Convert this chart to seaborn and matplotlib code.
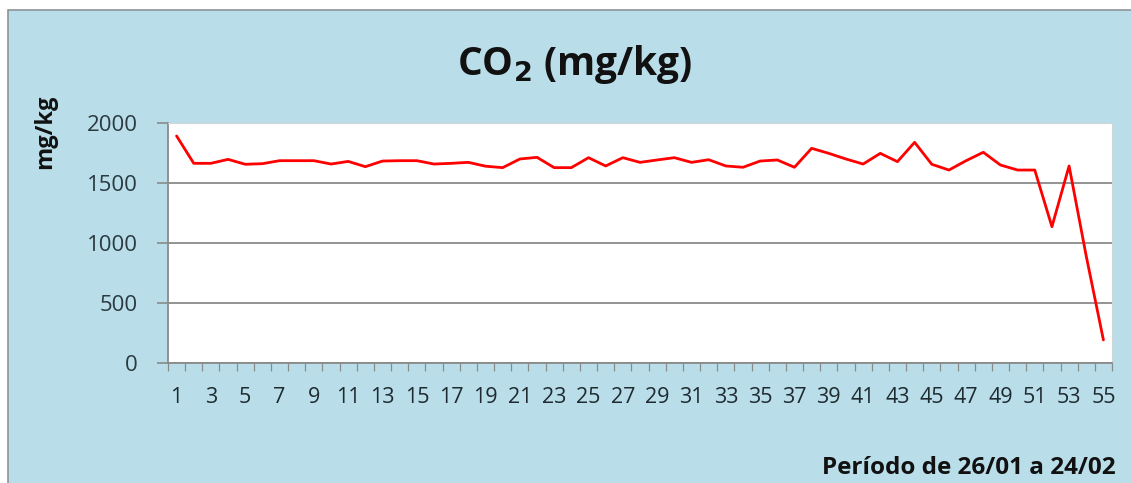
import numpy as np
import pandas as pd
import matplotlib
matplotlib.use("Agg")
import matplotlib.pyplot as plt
from matplotlib.patches import Rectangle
import seaborn as sns

# Daily CO2 readings (mg/kg), samples 1..55
sample = list(range(1, 56))
co2 = [1892, 1664, 1664, 1697, 1656, 1661, 1686, 1686, 1686, 1658,
       1680, 1636, 1683, 1686, 1686, 1658, 1664, 1672, 1640, 1628,
       1700, 1714, 1628, 1628, 1711, 1642, 1711, 1672, 1692, 1711,
       1672, 1694, 1642, 1631, 1683, 1692, 1631, 1789, 1747, 1700,
       1658, 1747, 1678, 1839, 1656, 1608, 1686, 1756, 1650, 1608,
       1608, 1136, 1642, 890, 192]
y_ticks = [0, 500, 1000, 1500, 2000]
x_tick_labels = [str(s) for s in sample if s % 2 == 1]

df = pd.DataFrame({"Amostra": sample, "CO2": co2})

sns.set_theme(style="white")
plt.rcParams["font.family"] = ["Open Sans", "DejaVu Sans"]

W, H = 1131, 483
fig = plt.figure(figsize=(W / 100, H / 100), dpi=100)
fig.patch.set_facecolor("white")

# Light blue chart frame behind everything
frame = Rectangle((8 / W, -0.01), 1.02, 1 - 10 / H + 0.01, transform=fig.transFigure,
                  facecolor="#b9deea", edgecolor="#8c9499", linewidth=1.2, zorder=-10)
fig.add_artist(frame)

ax = fig.add_axes([168 / W, 1 - 363 / H, (1112 - 168) / W, (363 - 123) / H])
ax.set_zorder(2)
ax.set_facecolor("white")

sns.lineplot(data=df, x="Amostra", y="CO2", ax=ax, color="#ff0000", linewidth=2.0)

ax.set_xlim(0.5, 55.5)
ax.set_ylim(0, 2000)

ax.set_yticks(y_ticks)
ax.set_yticklabels([str(v) for v in y_ticks])
ax.yaxis.grid(True, color="#8a8a8a", linewidth=1.3)
ax.set_axisbelow(True)

# Category boundaries as small tick marks, labels on odd samples
ax.set_xticks(np.arange(0.5, 56.0, 1.0), minor=True)
ax.set_xticks([s for s in sample if s % 2 == 1])
ax.set_xticklabels(x_tick_labels)
ax.tick_params(axis="x", which="major", length=0, pad=17, labelsize=15.5, labelcolor="#1e2a30")
ax.tick_params(axis="x", which="minor", length=6, width=0.9, color="#8a8a8a", direction="out")
ax.tick_params(axis="y", which="major", length=8, width=1.2, color="#8a8a8a", direction="out",
               pad=14, labelsize=16, labelcolor="#2a3a40")
ax.xaxis.set_ticks_position("bottom")
ax.yaxis.set_ticks_position("left")

for side in ["left", "bottom"]:
    ax.spines[side].set_color("#8a8a8a")
    ax.spines[side].set_linewidth(1.3)
for side in ["top", "right"]:
    ax.spines[side].set_color("#d0d6d8")
    ax.spines[side].set_linewidth(0.8)

ax.set_xlabel("")
ax.set_ylabel("")

fig.text(575 / W, 1 - 64 / H, r"CO$_\mathbf{2}$ (mg/kg)", ha="center", va="center",
         fontsize=28, fontweight="bold", color="#111111")
fig.text(45 / W, 1 - 132 / H, "mg/kg", rotation=90, ha="center", va="center",
         fontsize=17, fontweight="bold", color="#111111")
fig.text(822 / W, 1 - 468 / H, "Período de 26/01 a 24/02", ha="left", va="center",
         fontsize=17.5, fontweight="bold", color="#111111")

fig.savefig("out.png", dpi=100)
